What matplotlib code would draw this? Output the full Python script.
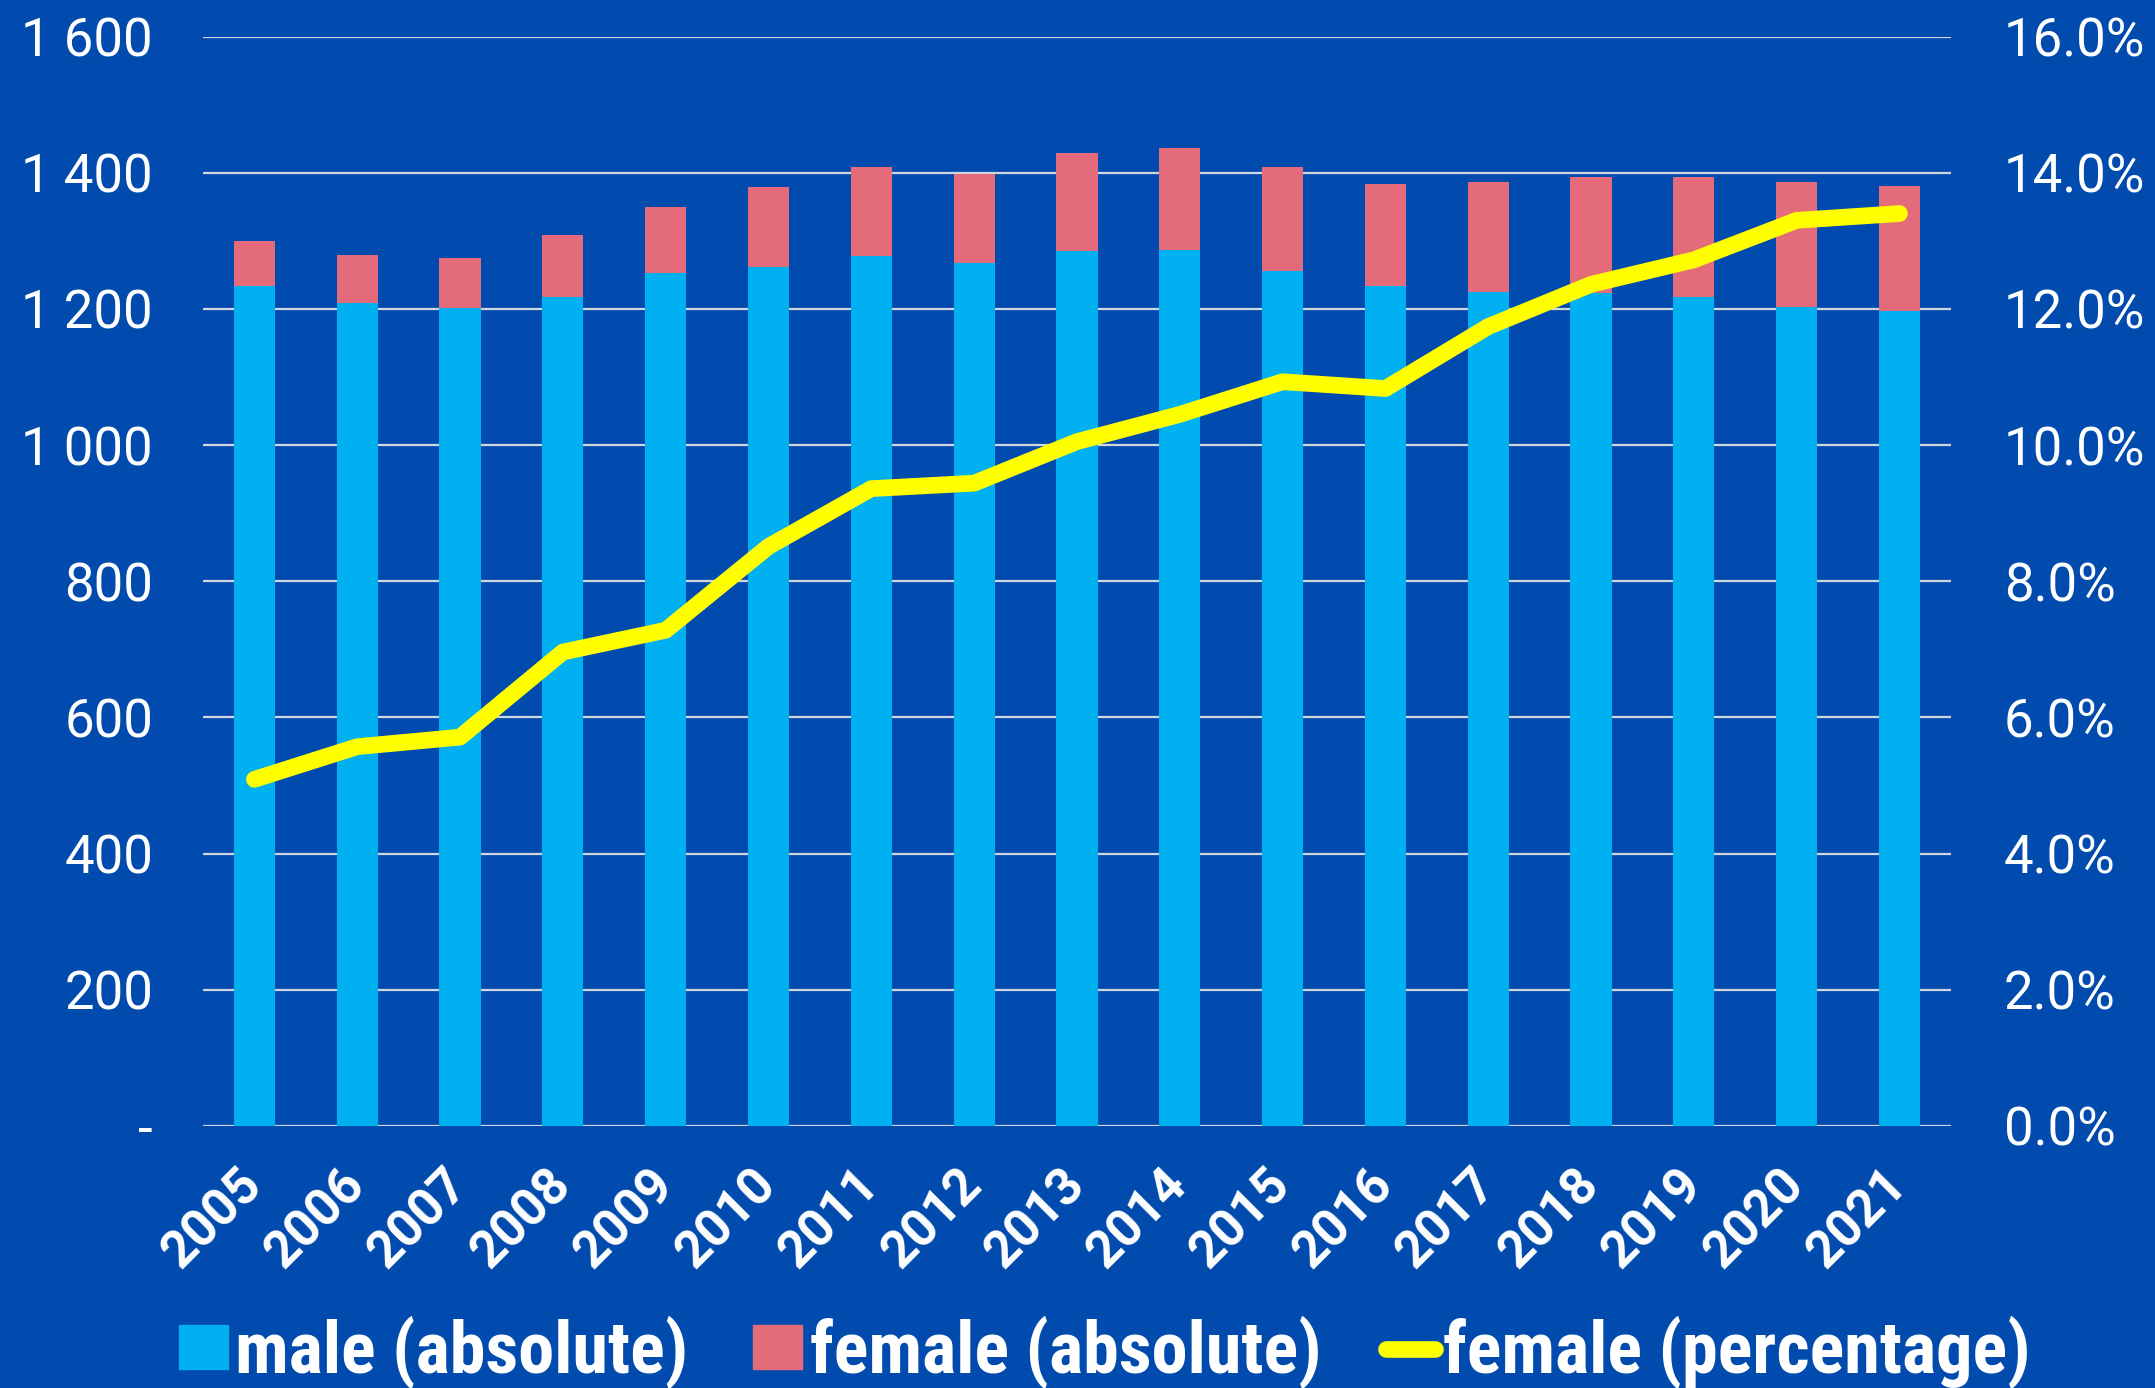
import matplotlib
matplotlib.use('Agg')
import matplotlib.pyplot as plt
from matplotlib.ticker import FuncFormatter, MultipleLocator
from matplotlib.patches import Patch
from matplotlib.lines import Line2D
import numpy as np

years = ['2005', '2006', '2007', '2008', '2009', '2010', '2011', '2012', '2013',
         '2014', '2015', '2016', '2017', '2018', '2019', '2020', '2021']
male = [1234, 1208, 1202, 1218, 1252, 1262, 1278, 1267, 1285, 1286, 1255, 1234,
        1225, 1223, 1217, 1203, 1197]
female = [66, 71, 72, 91, 98, 117, 130, 131, 144, 150, 153, 149, 162, 171, 176,
          184, 184]
female_pct = [5.09, 5.57, 5.71, 6.96, 7.28, 8.51, 9.36, 9.44, 10.05, 10.45, 10.93,
              10.83, 11.74, 12.36, 12.72, 13.3, 13.4]

bg = '#004BAD'
c_male = '#00B0F0'
c_female = '#E46C7A'
c_line = '#FFFF00'
grid_c = '#D0D5E0'

fig = plt.figure(figsize=(21.55, 13.88), dpi=100, facecolor=bg)
ax = fig.add_axes([0.0942, 0.1888, 0.8111, 0.7849])
ax.set_facecolor(bg)

x = np.arange(len(years))
ax.bar(x, male, width=0.4, color=c_male, zorder=2)
ax.bar(x, female, width=0.4, bottom=male, color=c_female, zorder=2)

ax.set_xlim(-0.5, len(years) - 0.5)
ax.set_ylim(0, 1600)
ax.yaxis.set_major_locator(MultipleLocator(200))
ax.grid(axis='y', color=grid_c, lw=1.6, zorder=0)
ax.set_axisbelow(True)
for s in ax.spines.values():
    s.set_visible(False)


def fmt_abs(v, pos):
    # excel accounting style: zero shown as a dash
    if v == 0:
        return '-'
    return format(int(v), ',').replace(',', ' ')


ax.yaxis.set_major_formatter(FuncFormatter(fmt_abs))
ax.tick_params(axis='y', length=0, pad=36, labelsize=38, labelcolor='white')
ax.set_xticks(x)
ax.set_xticklabels(years, rotation=45, ha='right', va='center',
                   rotation_mode='anchor', fontweight='bold', fontsize=37,
                   color='white', family='Roboto')
ax.tick_params(axis='x', length=0, pad=37)
for lab in ax.get_yticklabels():
    lab.set_family('Roboto')

ax2 = ax.twinx()
ax2.plot(x, np.array(female_pct) / 100, color=c_line, lw=12,
         solid_capstyle='round', solid_joinstyle='round', zorder=3)
ax2.set_ylim(0, 0.16)
ax2.yaxis.set_major_locator(MultipleLocator(0.02))
ax2.yaxis.set_major_formatter(FuncFormatter(lambda v, p: '{:.1f}%'.format(v * 100)))
ax2.tick_params(axis='y', length=0, pad=38, labelsize=38, labelcolor='white')
for lab in ax2.get_yticklabels():
    lab.set_family('Roboto')
for s in ax2.spines.values():
    s.set_visible(False)

handles = [Patch(color=c_male), Patch(color=c_female),
           Line2D([0], [0], color=c_line, lw=12, solid_capstyle='round')]
labels = ['male (absolute)', 'female (absolute)', 'female (percentage)']
leg = fig.legend(handles, labels, loc='center', bbox_to_anchor=(0.5125, 0.026),
                 ncol=3, frameon=False, handlelength=0.68, handleheight=0.56,
                 handletextpad=0.1, columnspacing=0.9,
                 prop={'family': ['Liberation Sans Narrow', 'Roboto Condensed', 'Roboto'],
                       'weight': 'bold', 'size': 52})
for t in leg.get_texts():
    t.set_color('white')

fig.savefig('out.png', dpi=100, facecolor=bg)
